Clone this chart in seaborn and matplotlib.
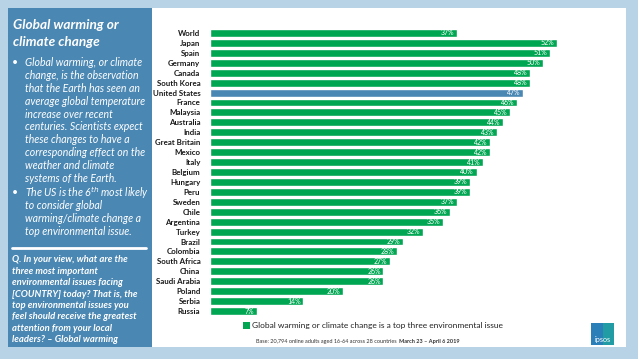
import matplotlib
matplotlib.use("Agg")
import matplotlib.pyplot as plt
import seaborn as sns
import pandas as pd
from matplotlib.patches import Rectangle

countries = ["World", "Japan", "Spain", "Germany", "Canada", "South Korea", "United States",
             "France", "Malaysia", "Australia", "India", "Great Britain", "Mexico", "Italy",
             "Belgium", "Hungary", "Peru", "Sweden", "Chile", "Argentina", "Turkey", "Brazil",
             "Colombia", "South Africa", "China", "Saudi Arabia", "Poland", "Serbia", "Russia"]
values = [37, 52, 51, 50, 48, 48, 47, 46, 45, 44, 43, 42, 42, 41, 40, 39, 39, 37, 36, 35,
          32, 29, 28, 27, 26, 26, 20, 14, 7]
highlight = "United States"
legend_label = "Global warming or climate change is a top three environmental issue"

GREEN = "#00a651"
BLUE = "#4a87b3"
W, H = 638, 359

sns.set_theme(style="white")
plt.rcParams['font.family'] = ['Lato', 'DejaVu Sans']

fig = plt.figure(figsize=(W / 100, H / 100), dpi=100)
fig.patch.set_facecolor("#b8d2e6")

def fx(px):
    return px / W

def fy(py):
    return 1 - py / H

# white panel
fig.add_artist(Rectangle((fx(8), fy(347)), fx(626 - 8), (347 - 8) / H,
                         transform=fig.transFigure, facecolor="white", edgecolor="none", zorder=0))
# left blue panel
fig.add_artist(Rectangle((fx(8), fy(347)), fx(152 - 8), (347 - 8) / H,
                         transform=fig.transFigure, facecolor=BLUE, edgecolor="none", zorder=0))

# chart axes
ax = fig.add_axes([fx(210), fy(316), fx(400), (316 - 28) / H])
df = pd.DataFrame({"country": countries, "value": values})
palette = {c: (BLUE if c == highlight else GREEN) for c in countries}
sns.barplot(data=df, x="value", y="country", hue="country", palette=palette,
            legend=False, width=0.8, orient="h", ax=ax, saturation=1)
ax.set_xlim(0, 60)
ax.set_ylim(len(countries) - 0.5, -0.5)
ax.set_xlabel("")
ax.set_ylabel("")
ax.set_xticks([])
ax.tick_params(axis="y", length=0, pad=7)
for lab in ax.get_yticklabels():
    lab.set_fontsize(5.7)
    lab.set_fontweight("bold")
    lab.set_color("#1a1a1a")
for s in ax.spines.values():
    s.set_visible(False)
ax.patch.set_alpha(0)
for i, v in enumerate(values):
    ax.text(v - 0.4, i, f"{v}%", ha="right", va="center", fontsize=5.0, color="white")

# legend
fig.add_artist(Rectangle((fx(243), fy(329)), fx(6.5), 7 / H, transform=fig.transFigure,
                         facecolor=GREEN, edgecolor="none"))
fig.text(fx(252), fy(325.5), legend_label, fontsize=6.0, color="#222222", va="center", ha="left")

# base text
t1 = fig.text(fx(256), fy(341), "Base: 20,794 online adults aged 16-64 across 28 countries  ",
              fontsize=4.0, color="#333333", va="center", ha="left")
fig.canvas.draw()
bb = t1.get_window_extent()
fig.text(bb.x1 / W, fy(341), "March 23 – April 6 2019", fontsize=4.0, color="#333333",
         va="center", ha="left", fontweight="bold")

# logo
fig.add_artist(Rectangle((fx(591), fy(345)), fx(23), 22 / H, transform=fig.transFigure,
                         facecolor="#2a7fb8", edgecolor="none"))
fig.add_artist(Rectangle((fx(603), fy(345)), fx(11), 22 / H, transform=fig.transFigure,
                         facecolor="#1fa3a0", edgecolor="none", alpha=0.8))
fig.text(fx(602.5), fy(339.5), "ipsos", fontsize=5.2, color="white", ha="center", va="center")

# left panel text
fig.text(fx(13), fy(25), "Global warming or", fontsize=9.8, color="white",
         fontweight="bold", fontstyle="italic", va="center")
fig.text(fx(13), fy(42), "climate change", fontsize=9.8, color="white",
         fontweight="bold", fontstyle="italic", va="center")

bullet1 = ["Global warming, or climate", "change, is the observation",
           "that the Earth has seen an", "average global temperature",
           "increase over recent", "centuries. Scientists expect",
           "these changes to have a", "corresponding effect on the",
           "weather and climate", "systems of the Earth."]
bullet2 = ["The US is the 6$^{th}$ most likely", "to consider global",
           "warming/climate change a", "top environmental issue."]
y = 63
for k, line in enumerate(bullet1):
    if k == 0:
        fig.text(fx(12), fy(y), "•", fontsize=7.5, color="white", va="center")
    fig.text(fx(25), fy(y), line, fontsize=7.6, color="white", fontstyle="italic", va="center")
    y += 12.8
y = 193
for k, line in enumerate(bullet2):
    if k == 0:
        fig.text(fx(12), fy(y), "•", fontsize=7.5, color="white", va="center")
    fig.text(fx(25), fy(y), line, fontsize=7.6, color="white", fontstyle="italic", va="center")
    y += 12.8

fig.add_artist(plt.Line2D([fx(12), fx(146)], [fy(248), fy(248)], transform=fig.transFigure,
                          color="white", linewidth=2))

qlines = ["Q. In your view, what are the", "three most important",
          "environmental issues facing", "[COUNTRY] today? That is, the",
          "top environmental issues you", "feel should receive the greatest",
          "attention from your local", "leaders? – Global warming"]
y = 260
for line in qlines:
    fig.text(fx(12), fy(y), line, fontsize=6.8, color="white", fontstyle="italic",
             fontweight="bold", va="center")
    y += 11.4

fig.savefig("out.png", dpi=100, facecolor=fig.get_facecolor())
